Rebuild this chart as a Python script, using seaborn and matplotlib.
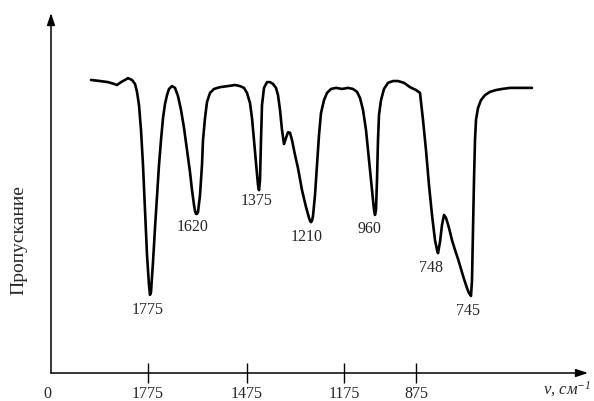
import matplotlib
matplotlib.use("Agg")
import matplotlib.pyplot as plt
import seaborn as sns
import pandas as pd

# Position along the (schematic) wavenumber axis and transmittance, traced spectrum
position = [40, 49, 57, 63, 66, 70, 74, 77, 81, 84, 86, 88, 90, 92, 94, 96, 98, 99, 100,
            102, 104, 106, 108, 110, 112, 114, 116, 118, 121, 124, 127, 130, 133, 136, 139,
            141, 143, 144, 145, 146, 147, 149, 151, 152, 154, 156, 159, 163, 169, 177, 184, 189, 193,
            196, 199, 201, 203, 205, 207, 208, 209, 210, 211, 213, 216, 219, 222, 225, 227,
            229, 231, 233, 235, 237, 239, 241, 244, 247, 251, 255, 258, 259, 260, 261, 262, 264, 266,
            268, 270, 273, 276, 280, 285, 291, 297, 302, 306, 309, 312, 315, 318, 321, 323,
            324, 325, 326, 327, 328, 330, 333, 337, 342, 347, 353, 359, 365, 369, 372, 375,
            378, 381, 384, 386, 387, 389, 391, 393, 395, 398, 401, 404, 407, 410, 413, 416,
            418, 420, 421, 422, 423, 424, 425, 427, 430, 434, 439, 445, 451, 459, 469, 481]
transmittance = [81.4, 81.1, 80.8, 80.3, 80.0, 80.8, 81.4, 81.9, 81.4, 80.3, 78.1, 74.4, 67.5,
                 57.8, 45.3, 32.8, 24.4, 21.7, 22.5, 30.8, 40.3, 49.2, 57.8, 64.7, 70.8, 74.7,
                 77.2, 78.9, 79.7, 79.2, 76.9, 73.1, 68.1, 61.9, 55.8, 50.8, 46.7, 45.0, 44.2,
                 44.2, 44.7, 49.4, 57.8, 64.7, 70.8, 75.3, 77.8, 78.9, 79.4, 79.7, 80.0, 79.7,
                 79.2, 77.8, 75.0, 70.8, 64.7, 58.3, 52.2, 50.8, 53.6, 64.7, 74.4, 79.2, 80.8,
                 80.8, 80.3, 79.2, 77.2, 73.1, 67.5, 63.6, 65.3, 66.9, 66.7, 64.7, 60.6, 56.9,
                 50.8, 46.1, 43.1, 42.3, 41.9, 42.3, 43.6, 49.4, 57.8, 66.1, 72.2, 75.8, 77.8,
                 78.9, 79.2, 78.9, 79.2, 78.9, 78.1, 76.4, 73.1, 67.5, 59.2, 50.8, 45.3, 43.9,
                 45.3, 53.6, 64.7, 71.7, 75.8, 78.9, 80.6, 81.1, 81.1, 80.6, 79.4, 78.6, 77.8,
                 70.3, 61.9, 52.2, 43.9, 36.9, 34.2, 33.3, 36.4, 41.1, 43.9, 43.1, 40.3, 36.9,
                 34.2, 31.7, 28.9, 26.1, 23.6, 22.2, 21.4, 25.8, 39.7, 53.6, 64.7, 70.3, 73.6,
                 75.8, 77.2, 78.1, 78.6, 78.9, 79.2, 79.2, 79.2]

# Absorption bands: label, position of the minimum, transmittance at the minimum
band_labels = ["1775", "1620", "1375", "1210", "960", "748", "745"]
band_position = [99, 145, 208, 260, 324, 387, 420]
band_transmittance = [21.7, 44.2, 50.8, 41.9, 43.9, 33.3, 21.4]

# Axis tick marks
tick_position = [97, 196, 293, 365]
tick_labels = ["1775", "1475", "1175", "875"]

sns.set_style("white")
plt.rcParams["font.family"] = ["Liberation Serif", "DejaVu Serif"]
plt.rcParams["mathtext.fontset"] = "custom"
plt.rcParams["mathtext.rm"] = "Liberation Serif:italic"
plt.rcParams["mathtext.it"] = "Liberation Serif:italic"

fig = plt.figure(figsize=(5.94, 4.01), dpi=100)
ax = fig.add_axes([51 / 594, 28 / 401, 537 / 594, 360 / 401])

df = pd.DataFrame({"position": position, "transmittance": transmittance})
sns.lineplot(data=df, x="position", y="transmittance", ax=ax, color="black",
             linewidth=1.9, sort=False, estimator=None,
             solid_joinstyle="round", solid_capstyle="round")

ax.set_xlim(0, 537)
ax.set_ylim(0, 100)
for s in ax.spines.values():
    s.set_visible(False)

# Axes drawn as arrows from the origin
arrow = dict(arrowstyle="-|>,head_length=0.9,head_width=0.3", color="black",
             lw=1.1, mutation_scale=8, shrinkA=0, shrinkB=0)
ax.annotate("", xy=(1, 0), xytext=(0, 0), xycoords="axes fraction", arrowprops=arrow)
ax.annotate("", xy=(0, 1), xytext=(0, 0), xycoords="axes fraction", arrowprops=arrow)

ax.set_xticks(tick_position, tick_labels)
ax.set_yticks([])
ax.tick_params(axis="x", direction="inout", length=15, width=1.0, color="black",
               labelsize=11.5, pad=2, bottom=True)
ax.set_xlabel("")
ax.set_ylabel("")

ax.annotate("0", xy=(0, 0), xycoords="axes fraction", xytext=(-4, -21),
            textcoords="offset pixels", ha="center", va="center", fontsize=11.5)

offsets = [(-2, -15), (-3, -13), (-2, -11), (-4, -15), (-6, -14), (-7, -15), (-3, -15)]
for lab, xp, yp, off in zip(band_labels, band_position, band_transmittance, offsets):
    ax.annotate(lab, xy=(xp, yp), xytext=off, textcoords="offset pixels",
                ha="center", va="center", fontsize=11.5)

fig.text(19 / 594, 1 - 240 / 401, "Пропускание", rotation=90, ha="center", va="center",
         fontsize=14)
fig.text(591 / 594, 1 - 389 / 401, r"ν, см$^{-1}$", ha="right", va="center",
         fontsize=12, fontstyle="italic")

fig.savefig("out.png", dpi=100)
